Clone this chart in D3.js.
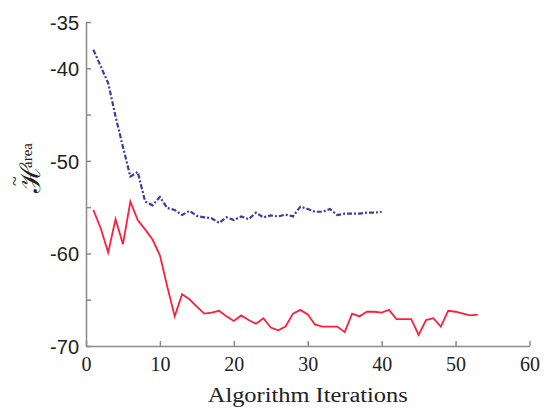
<!DOCTYPE html>
<html>
<head>
<meta charset="utf-8">
<script src="https://cdn.jsdelivr.net/npm/d3@7"></script>
<style>
  body { margin: 0; background: #fff; }
  .axis path, .axis line { stroke: #8a8a8a; stroke-width: 1.5; }
  .yaxis text { font-family: "Liberation Sans", Arial, sans-serif; font-size: 20px; fill: #222; }
  .xaxis text { font-family: "Liberation Serif", "Times New Roman", serif; font-size: 20px; fill: #222; }
  .axis-title { font-family: "Liberation Serif", "Times New Roman", serif; fill: #222; }
</style>
</head>
<body>
<svg id="chart" width="544" height="408"></svg>
<script>
// iterations of the two runs
const blueIters = d3.range(1, 41);
const redIters = d3.range(1, 54);

const blueValues = [
  -38.0, -39.8, -41.6, -45.2, -48.5, -51.7, -51.2, -54.4, -54.8, -53.9,
  -55.1, -55.3, -55.85, -55.4, -55.95, -56.1, -56.2, -56.7, -56.1, -56.4,
  -56.0, -56.3, -55.6, -56.1, -55.9, -56.0, -55.8, -56.0, -54.95, -55.2,
  -55.5, -55.5, -55.2, -55.85, -55.7, -55.7, -55.7, -55.6, -55.6, -55.5
];

const redValues = [
  -55.3, -57.3, -59.9, -56.3, -59.0, -54.4, -56.4, -57.4, -58.5, -60.2,
  -63.6, -66.8, -64.4, -64.95, -65.75, -66.5, -66.4, -66.2, -66.8, -67.3,
  -66.7, -67.2, -67.6, -67.0, -68.0, -68.3, -67.9, -66.5, -66.1, -66.6,
  -67.7, -67.9, -67.9, -67.9, -68.5, -66.5, -66.8, -66.3, -66.3, -66.4,
  -66.1, -67.1, -67.1, -67.1, -68.8, -67.2, -67.0, -67.9, -66.2, -66.3,
  -66.5, -66.7, -66.6
];

const xTicks = [0, 10, 20, 30, 40, 50, 60];
const yTicks = [-35, -40, -45, -50, -55, -60, -65, -70];
const yLabeled = [-35, -40, -50, -60, -70];

const svg = d3.select("#chart");

const x = d3.scaleLinear().domain([0, 60]).range([86, 529.5]);
const y = d3.scaleLinear().domain([-70, -35]).range([346, 22]);

svg.append("g")
  .attr("class", "axis xaxis")
  .attr("transform", `translate(0,${y(-70)})`)
  .call(d3.axisBottom(x).tickValues(xTicks).tickSize(-5).tickPadding(6).tickSizeOuter(0)
    .tickFormat(d => String(d)))
  .call(g => g.selectAll("text").attr("dy", "0.95em"));

svg.append("g")
  .attr("class", "axis yaxis")
  .attr("transform", `translate(${x(0)},0)`)
  .call(d3.axisLeft(y).tickValues(yTicks).tickSize(-5).tickPadding(7).tickSizeOuter(0)
    .tickFormat(d => yLabeled.includes(d) ? String(d) : ""))
  .call(g => g.selectAll("text").attr("dy", "0.36em"));

const line = d3.line()
  .x(d => x(d[0]))
  .y(d => y(d[1]));

svg.append("path")
  .datum(blueIters.map((it, i) => [it, blueValues[i]]))
  .attr("fill", "none")
  .attr("stroke", "#3b3ba3")
  .attr("stroke-width", 2.2)
  .attr("stroke-dasharray", "5,2,2,2")
  .attr("d", line);

svg.append("path")
  .datum(redIters.map((it, i) => [it, redValues[i]]))
  .attr("fill", "none")
  .attr("stroke", "#ff1f3d")
  .attr("stroke-width", 1.8)
  .attr("d", line);

svg.append("text")
  .attr("class", "axis-title")
  .attr("x", (x(0) + x(60)) / 2)
  .attr("y", 402)
  .attr("text-anchor", "middle")
  .attr("font-size", 20)
  .attr("textLength", 200)
  .attr("lengthAdjust", "spacingAndGlyphs")
  .text("Algorithm Iterations");

// y title: H tilde with superscript "area"
const yt = svg.append("g")
  .attr("transform", "translate(40,193) rotate(-90)");

yt.append("text")
  .attr("class", "axis-title")
  .attr("font-family", "'DejaVu Serif', serif")
  .attr("font-size", 28)
  .attr("x", 0)
  .attr("y", 0)
  .text("\u210B");

yt.append("text")
  .attr("class", "axis-title")
  .attr("font-size", 15)
  .attr("x", 25)
  .attr("y", -8)
  .text("area");

yt.append("text")
  .attr("class", "axis-title")
  .attr("text-anchor", "middle")
  .attr("x", 12)
  .attr("y", -19)
  .attr("font-size", 18)
  .text("~");
</script>
</body>
</html>
